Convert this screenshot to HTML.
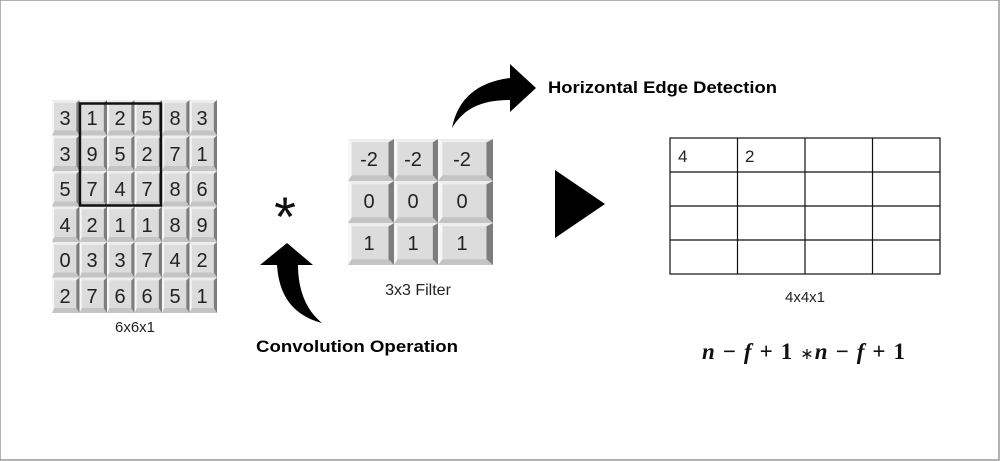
<!DOCTYPE html>
<html><head><meta charset="utf-8"><style>
html,body{margin:0;padding:0;background:#fff;}
svg{display:block;font-family:"Liberation Sans","DejaVu Sans",sans-serif;}
</style></head><body>
<svg width="1000" height="461" viewBox="0 0 1000 461" xmlns="http://www.w3.org/2000/svg">
<defs>
<symbol id="t" viewBox="0 0 100 100" preserveAspectRatio="none">
<rect x="0" y="0" width="100" height="100" fill="#eeeeee"/>
<polygon points="0,100 100,100 88,86 8,86" fill="#c4c4c4"/>
<polygon points="100,0 100,100 88,86 88,8" fill="#7d7d7d"/>
<polygon points="0,0 8,8 8,86 0,100" fill="#f7f7f7"/>
<rect x="8" y="8" width="80" height="78" fill="#dcdcdc"/>
</symbol>
</defs>
<rect x="0" y="0" width="999" height="460" fill="#fff" stroke="#999" stroke-width="1.5"/>

<g>
<use href="#t" x="52" y="100" width="27.5" height="35.5"/><use href="#t" x="79.5" y="100" width="27.5" height="35.5"/><use href="#t" x="107" y="100" width="27.5" height="35.5"/><use href="#t" x="134.5" y="100" width="27.5" height="35.5"/><use href="#t" x="162" y="100" width="27.5" height="35.5"/><use href="#t" x="189.5" y="100" width="27.5" height="35.5"/>
<use href="#t" x="52" y="135.5" width="27.5" height="35.5"/><use href="#t" x="79.5" y="135.5" width="27.5" height="35.5"/><use href="#t" x="107" y="135.5" width="27.5" height="35.5"/><use href="#t" x="134.5" y="135.5" width="27.5" height="35.5"/><use href="#t" x="162" y="135.5" width="27.5" height="35.5"/><use href="#t" x="189.5" y="135.5" width="27.5" height="35.5"/>
<use href="#t" x="52" y="171" width="27.5" height="35.5"/><use href="#t" x="79.5" y="171" width="27.5" height="35.5"/><use href="#t" x="107" y="171" width="27.5" height="35.5"/><use href="#t" x="134.5" y="171" width="27.5" height="35.5"/><use href="#t" x="162" y="171" width="27.5" height="35.5"/><use href="#t" x="189.5" y="171" width="27.5" height="35.5"/>
<use href="#t" x="52" y="206.5" width="27.5" height="35.5"/><use href="#t" x="79.5" y="206.5" width="27.5" height="35.5"/><use href="#t" x="107" y="206.5" width="27.5" height="35.5"/><use href="#t" x="134.5" y="206.5" width="27.5" height="35.5"/><use href="#t" x="162" y="206.5" width="27.5" height="35.5"/><use href="#t" x="189.5" y="206.5" width="27.5" height="35.5"/>
<use href="#t" x="52" y="242" width="27.5" height="35.5"/><use href="#t" x="79.5" y="242" width="27.5" height="35.5"/><use href="#t" x="107" y="242" width="27.5" height="35.5"/><use href="#t" x="134.5" y="242" width="27.5" height="35.5"/><use href="#t" x="162" y="242" width="27.5" height="35.5"/><use href="#t" x="189.5" y="242" width="27.5" height="35.5"/>
<use href="#t" x="52" y="277.5" width="27.5" height="35.5"/><use href="#t" x="79.5" y="277.5" width="27.5" height="35.5"/><use href="#t" x="107" y="277.5" width="27.5" height="35.5"/><use href="#t" x="134.5" y="277.5" width="27.5" height="35.5"/><use href="#t" x="162" y="277.5" width="27.5" height="35.5"/><use href="#t" x="189.5" y="277.5" width="27.5" height="35.5"/>
</g>
<g font-size="20" fill="#222" text-anchor="middle">
<text x="65" y="125">3</text><text x="92" y="125">1</text><text x="120" y="125">2</text><text x="147" y="125">5</text><text x="175" y="125">8</text><text x="202" y="125">3</text>
<text x="65" y="161">3</text><text x="92" y="161">9</text><text x="120" y="161">5</text><text x="147" y="161">2</text><text x="175" y="161">7</text><text x="202" y="161">1</text>
<text x="65" y="196">5</text><text x="92" y="196">7</text><text x="120" y="196">4</text><text x="147" y="196">7</text><text x="175" y="196">8</text><text x="202" y="196">6</text>
<text x="65" y="232">4</text><text x="92" y="232">2</text><text x="120" y="232">1</text><text x="147" y="232">1</text><text x="175" y="232">8</text><text x="202" y="232">9</text>
<text x="65" y="267">0</text><text x="92" y="267">3</text><text x="120" y="267">3</text><text x="147" y="267">7</text><text x="175" y="267">4</text><text x="202" y="267">2</text>
<text x="65" y="303">2</text><text x="92" y="303">7</text><text x="120" y="303">6</text><text x="147" y="303">6</text><text x="175" y="303">5</text><text x="202" y="303">1</text>
</g>
<rect x="80" y="103.5" width="81" height="102" fill="none" stroke="#111" stroke-width="2.5"/>
<text x="135" y="332" font-size="15" fill="#222" text-anchor="middle">6x6x1</text>

<!-- asterisk -->
<text x="285" y="236" font-size="56" fill="#111" text-anchor="middle">*</text>

<!-- filter -->
<g>
<use href="#t" x="348" y="139" width="46" height="42"/><use href="#t" x="394" y="139" width="44" height="42"/><use href="#t" x="438" y="139" width="55" height="42"/>
<use href="#t" x="348" y="181" width="46" height="42"/><use href="#t" x="394" y="181" width="44" height="42"/><use href="#t" x="438" y="181" width="55" height="42"/>
<use href="#t" x="348" y="223" width="46" height="42"/><use href="#t" x="394" y="223" width="44" height="42"/><use href="#t" x="438" y="223" width="55" height="42"/>
</g>
<g font-size="20" fill="#222" text-anchor="middle">
<text x="369" y="166">-2</text><text x="413" y="166">-2</text><text x="462" y="166">-2</text>
<text x="369" y="208">0</text><text x="413" y="208">0</text><text x="462" y="208">0</text>
<text x="369" y="250">1</text><text x="413" y="250">1</text><text x="462" y="250">1</text>
</g>
<text x="418" y="295" font-size="16" fill="#222" text-anchor="middle">3x3 Filter</text>

<!-- top curved arrow -->
<path d="M452,128 C458,98 478,82 510,78 L510,64 L536,88 L510,112 L510,100 C482,100 464,108 452,128 Z" fill="#000"/>
<text x="548" y="93" font-size="17" font-weight="bold" fill="#000" textLength="229" lengthAdjust="spacingAndGlyphs">Horizontal Edge Detection</text>

<!-- bottom curved arrow -->
<path d="M322,323 C292,315 279,295 277,265 L260,265 L287,243 L313,265 L298,265 C298,290 306,310 322,323 Z" fill="#000"/>
<text x="256" y="352" font-size="17" font-weight="bold" fill="#000" textLength="202" lengthAdjust="spacingAndGlyphs">Convolution Operation</text>

<!-- triangle -->
<polygon points="555,170 555,238 605,204" fill="#000"/>

<!-- output grid -->
<g stroke="#111" stroke-width="1.2" fill="none">
<rect x="670" y="138" width="270" height="136"/>
<line x1="737.5" y1="138" x2="737.5" y2="274"/>
<line x1="805" y1="138" x2="805" y2="274"/>
<line x1="872.5" y1="138" x2="872.5" y2="274"/>
<line x1="670" y1="172" x2="940" y2="172"/>
<line x1="670" y1="206" x2="940" y2="206"/>
<line x1="670" y1="240" x2="940" y2="240"/>
</g>
<text x="678" y="162" font-size="17" fill="#222">4</text>
<text x="745" y="162" font-size="17" fill="#222">2</text>
<text x="805" y="302" font-size="15" fill="#222" text-anchor="middle">4x4x1</text>

<!-- formula -->
<text x="702" y="359" font-size="23" font-weight="bold" font-family="Liberation Serif, serif" fill="#111" textLength="203" lengthAdjust="spacing"><tspan font-style="italic">n</tspan> − <tspan font-style="italic">f</tspan> + 1  <tspan font-weight="normal" font-size="16">∗</tspan><tspan font-style="italic">n</tspan> − <tspan font-style="italic">f</tspan> + 1</text>
</svg>
</body></html>
